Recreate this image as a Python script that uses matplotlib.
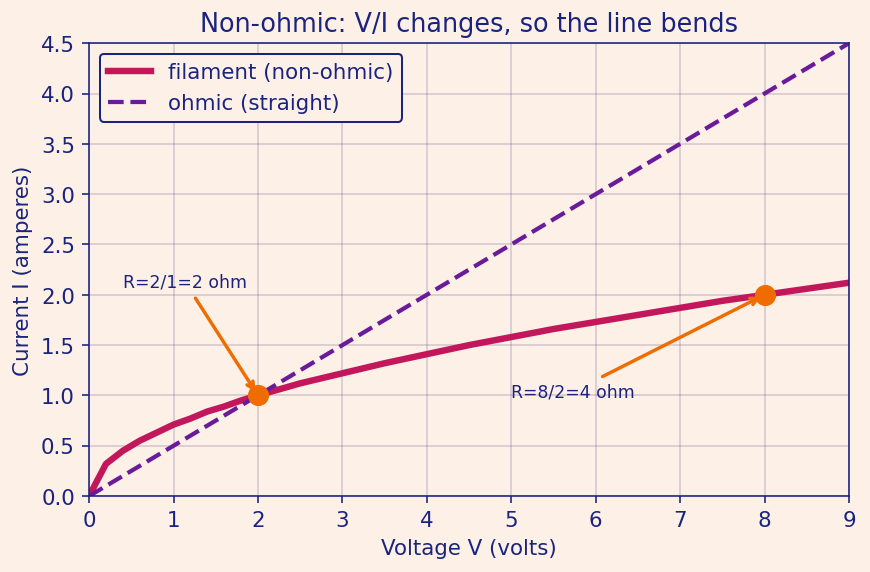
import matplotlib.pyplot as plt

volts = [0, 0.2, 0.4, 0.6, 0.8, 1.0, 1.2, 1.4, 1.6, 1.8, 2.0, 2.5, 3.0, 3.5, 4.0,
         4.5, 5.0, 5.5, 6.0, 6.5, 7.0, 7.5, 8.0, 8.5, 9.0]
amps = [0, 0.32, 0.45, 0.55, 0.63, 0.71, 0.77, 0.84, 0.89, 0.95, 1.0, 1.12, 1.22,
        1.32, 1.41, 1.5, 1.58, 1.66, 1.73, 1.8, 1.87, 1.94, 2.0, 2.06, 2.12]
ohmic_v = [0, 9]
ohmic_i = [0, 4.5]
pts_v = [2, 8]
pts_i = [1, 2]

bg = "#fdf0e6"
navy = "#1a237e"

fig = plt.figure(figsize=(6, 3.95), dpi=145, facecolor=bg)
ax = fig.add_axes([0.1024, 0.1326, 0.8734, 0.7906], facecolor=bg)

ax.plot(volts, amps, color="#c2185b", lw=3.2, label="filament (non-ohmic)")
ax.plot(ohmic_v, ohmic_i, color="#6a1b9a", lw=2.1, ls="--", label="ohmic (straight)")
ax.plot(pts_v, pts_i, "o", color="#ef6c00", ms=9.5, zorder=5)

ax.annotate("R=2/1=2 ohm", xy=(2, 1), xytext=(0.4, 2.13), color=navy, fontsize=8.6,
            va="center", arrowprops=dict(arrowstyle="->", color="#ef6c00", lw=1.7))
ax.annotate("R=8/2=4 ohm", xy=(8, 2), xytext=(5.0, 1.04), color=navy, fontsize=8.6,
            va="center", arrowprops=dict(arrowstyle="->", color="#ef6c00", lw=1.7))

ax.set_xlim(0, 9)
ax.set_ylim(0, 4.5)
ax.set_xticks(range(10))
ax.set_yticks([i * 0.5 for i in range(10)])
ax.grid(True, color="#5c4a8a", alpha=0.25, lw=0.8)
ax.set_axisbelow(True)
for s in ax.spines.values():
    s.set_color(navy)
ax.tick_params(colors=navy, labelsize=10.6)
ax.set_xlabel("Voltage V (volts)", color=navy, fontsize=10.6)
ax.set_ylabel("Current I (amperes)", color=navy, fontsize=10.6)
ax.set_title("Non-ohmic: V/I changes, so the line bends", color=navy, fontsize=12.7)
leg = ax.legend(loc="upper left", fontsize=10.6, facecolor=bg, edgecolor=navy,
                framealpha=1, fancybox=True)
for t in leg.get_texts():
    t.set_color(navy)

fig.savefig("out.png", facecolor=bg)
